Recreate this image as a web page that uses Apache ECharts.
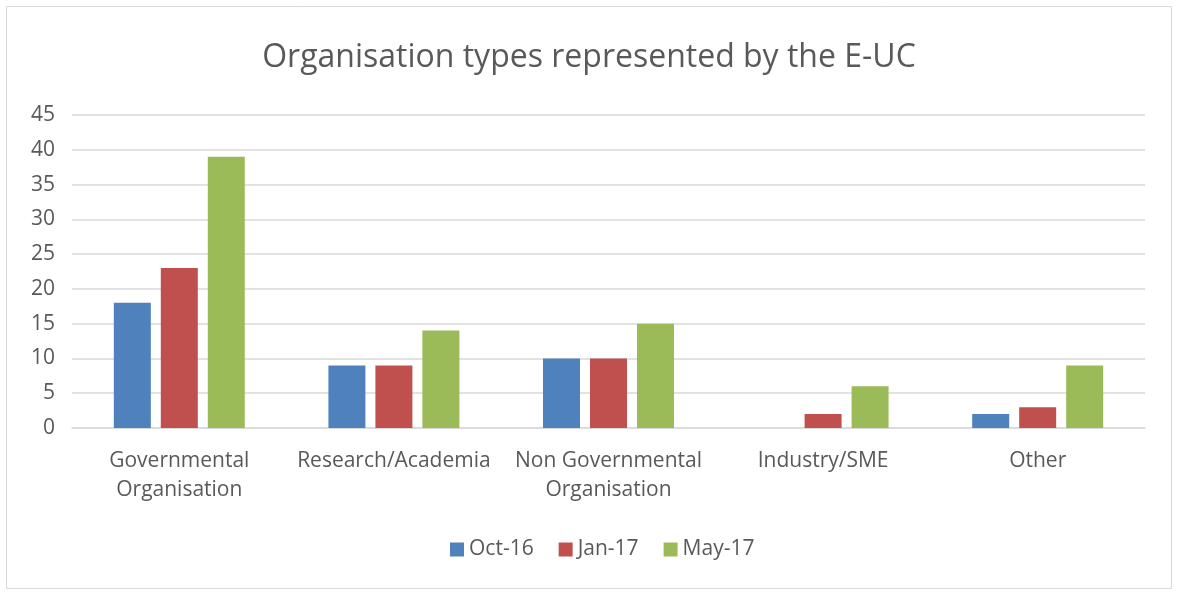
<!DOCTYPE html>
<html>
	<head>
		<meta charset="utf-8" />
		<title>Organisation types</title>
		<script src="https://cdn.jsdelivr.net/npm/echarts@6/dist/echarts.min.js"></script>
		<style>
			html, body { margin: 0; padding: 0; background: #fff; }
			#chartmain { width: 1178px; height: 592px; }
		</style>
	</head>
	<body>
		<div id="chartmain"></div>
		<script type="text/javascript">
			var categories = ['Governmental\nOrganisation', 'Research/Academia', 'Non Governmental\nOrganisation', 'Industry/SME', 'Other'];
			var seriesNames = ['Oct-16', 'Jan-17', 'May-17'];
			var oct16 = [18, 9, 10, 0, 2];
			var jan17 = [23, 9, 10, 2, 3];
			var may17 = [39, 14, 15, 6, 9];
			var colors = ['#4F81BD', '#C0504D', '#9BBB59'];

			var font = '"Open Sans", "Liberation Sans", sans-serif';
			var allData = [oct16, jan17, may17];

			var series = [];
			for (var i = 0; i < seriesNames.length; i++) {
				series.push({
					name: seriesNames[i],
					type: 'bar',
					data: allData[i],
					barWidth: 37,
					barGap: '27%',
					itemStyle: { color: colors[i] }
				});
			}

			var option = {
				backgroundColor: '#fff',
				animation: false,
				title: {
					text: 'Organisation types represented by the E-UC',
					left: 'center',
					top: 37,
					textStyle: { fontFamily: font, fontSize: 32, fontWeight: 'normal', color: '#595959' }
				},
				legend: {
					data: seriesNames,
					bottom: 27,
					left: 445,
					itemWidth: 14,
					itemHeight: 14,
					itemGap: 25,
					icon: 'rect',
					textStyle: { fontFamily: font, fontSize: 21, color: '#595959' }
				},
				grid: { left: 72, right: 33, top: 115, bottom: 164, containLabel: false },
				xAxis: {
					type: 'category',
					data: categories,
					axisLine: { lineStyle: { color: '#d9d9d9', width: 1.5 } },
					axisTick: { show: false },
					axisLabel: { fontFamily: font, fontSize: 21, color: '#595959', margin: 19, lineHeight: 29, interval: 0 }
				},
				yAxis: {
					type: 'value',
					min: 0,
					max: 45,
					interval: 5,
					axisLine: { show: false },
					axisTick: { show: false },
					splitLine: { lineStyle: { color: '#d9d9d9', width: 1.5 } },
					axisLabel: { fontFamily: font, fontSize: 21, color: '#595959', margin: 17 }
				},
				graphic: [{
					type: 'rect',
					shape: { x: 6.5, y: 6.5, width: 1165, height: 582 },
					style: { fill: null, stroke: '#d9d9d9', lineWidth: 1 },
					silent: true
				}],
				series: series
			};

			var myChart = echarts.init(document.getElementById('chartmain'));
			myChart.setOption(option);
		</script>
	</body>
</html>
